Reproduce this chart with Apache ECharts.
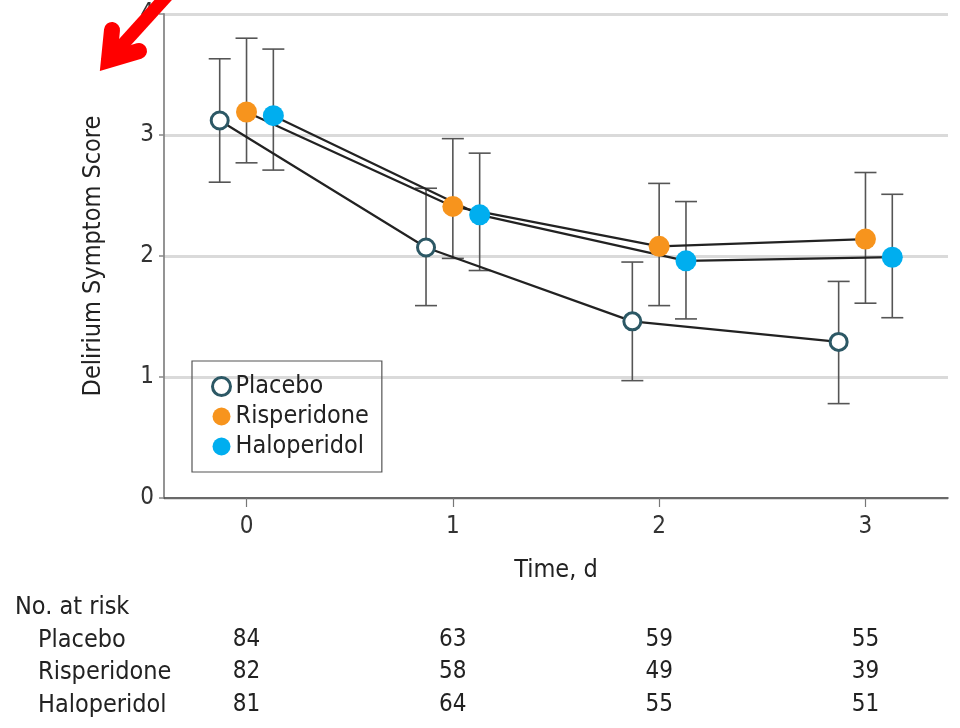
<!DOCTYPE html>
<html><head><meta charset="utf-8">
<script src="https://cdn.jsdelivr.net/npm/echarts@6/dist/echarts.min.js"></script>
<style>html,body{margin:0;padding:0;background:#fff}#c{width:960px;height:728px}</style>
</head><body><div id="c"></div>
<script>
const FONT = '"DejaVu Sans Condensed","DejaVu Sans",sans-serif';
const days = [0, 1, 2, 3];
const seriesNames = ['Placebo', 'Risperidone', 'Haloperidol'];
const dodge = [-0.13, 0, 0.13];
const placeboMean = [3.12, 2.07, 1.46, 1.29];
const placeboLow  = [2.61, 1.59, 0.97, 0.78];
const placeboHigh = [3.63, 2.56, 1.95, 1.79];
const risperidoneMean = [3.19, 2.41, 2.08, 2.14];
const risperidoneLow  = [2.77, 1.98, 1.59, 1.61];
const risperidoneHigh = [3.80, 2.97, 2.60, 2.69];
const haloperidolMean = [3.16, 2.34, 1.96, 1.99];
const haloperidolLow  = [2.71, 1.88, 1.48, 1.49];
const haloperidolHigh = [3.71, 2.85, 2.45, 2.51];
const atRiskPlacebo = [84, 63, 59, 55];
const atRiskRisperidone = [82, 58, 49, 39];
const atRiskHaloperidol = [81, 64, 55, 51];

const means = [placeboMean, risperidoneMean, haloperidolMean];
const lows = [placeboLow, risperidoneLow, haloperidolLow];
const highs = [placeboHigh, risperidoneHigh, haloperidolHigh];
const atRisk = [atRiskPlacebo, atRiskRisperidone, atRiskHaloperidol];
const styles = [
  {color: '#ffffff', borderColor: '#2c5865', borderWidth: 3},
  {color: '#f7941d', borderColor: '#f7941d', borderWidth: 0},
  {color: '#00aeef', borderColor: '#00aeef', borderWidth: 0}
];

const chart = echarts.init(document.getElementById('c'));
const series = [];
seriesNames.forEach((name, s) => {
  series.push({
    type: 'custom', name: name + ' CI', silent: true, z: 1,
    renderItem: function (params, api) {
      const x = api.value(0);
      const lo = api.coord([x, api.value(1)]);
      const hi = api.coord([x, api.value(2)]);
      const w = 11;
      const st = {stroke: '#555', lineWidth: 1.6};
      return {type: 'group', children: [
        {type: 'line', shape: {x1: lo[0], y1: lo[1], x2: hi[0], y2: hi[1]}, style: st},
        {type: 'line', shape: {x1: lo[0] - w, y1: lo[1], x2: lo[0] + w, y2: lo[1]}, style: st},
        {type: 'line', shape: {x1: hi[0] - w, y1: hi[1], x2: hi[0] + w, y2: hi[1]}, style: st}
      ]};
    },
    data: days.map((d, i) => [d + dodge[s], lows[s][i], highs[s][i]])
  });
});
seriesNames.forEach((name, s) => {
  series.push({
    type: 'line', name: name, z: 3,
    symbol: 'circle', symbolSize: s === 0 ? 17 : 21,
    lineStyle: {color: '#222', width: 2.2},
    itemStyle: styles[s],
    emphasis: {disabled: true},
    data: days.map((d, i) => [d + dodge[s], means[s][i]])
  });
});

chart.setOption({
  animation: false,
  textStyle: {fontFamily: FONT},
  grid: {left: 164, right: 12, top: 14, bottom: 230},
  legend: {
    orient: 'vertical', left: 192, top: 361,
    padding: [13, 13, 13, 19], itemGap: 5, itemWidth: 18, itemHeight: 18, itemTextGap: 6,
    borderColor: '#555', borderWidth: 1.2,
    icon: 'circle',
    textStyle: {fontFamily: FONT, fontSize: 25, color: '#222'},
    data: seriesNames.map((n, s) => ({name: n, itemStyle: styles[s]}))
  },
  xAxis: {
    type: 'value', min: -0.4, max: 3.4,
    name: 'Time, d', nameLocation: 'middle', nameGap: 60,
    nameTextStyle: {fontSize: 25, color: '#222', fontFamily: FONT},
    splitLine: {show: false},
    axisLine: {onZero: false, lineStyle: {color: '#444', width: 1.5}},
    axisTick: {show: true, customValues: days, length: 9, lineStyle: {color: '#777', width: 1.2}},
    axisLabel: {customValues: days, fontSize: 24, color: '#333', margin: 17, fontFamily: FONT}
  },
  yAxis: {
    type: 'value', min: 0, max: 4, interval: 1,
    name: 'Delirium Symptom Score', nameLocation: 'middle', nameGap: 58,
    nameTextStyle: {fontSize: 25, color: '#222', fontFamily: FONT},
    axisLine: {show: true, onZero: false, lineStyle: {color: '#888', width: 1.8}},
    axisTick: {show: true, length: 5, lineStyle: {color: '#888', width: 1.5}},
    axisLabel: {fontSize: 24, color: '#333', margin: 10, fontFamily: FONT},
    splitLine: {show: true, lineStyle: {color: '#dadada', width: 3}}
  },
  series: series
});

// at-risk table + annotation arrow
const g = [];
g.push({type: 'text', x: 15, y: 607, style: {text: 'No. at risk', font: '25px ' + FONT, fill: '#222', verticalAlign: 'middle'}});
const rowY = [640, 672, 705];
seriesNames.forEach((n, s) => {
  g.push({type: 'text', x: 38, y: rowY[s], style: {text: n, font: '25px ' + FONT, fill: '#222', verticalAlign: 'middle'}});
  days.forEach((d, i) => {
    const px = chart.convertToPixel({xAxisIndex: 0}, d);
    g.push({type: 'text', x: px, y: rowY[s], style: {text: String(atRisk[s][i]), font: '24px ' + FONT, fill: '#222', align: 'center', verticalAlign: 'middle'}});
  });
});
g.push({type: 'polyline', z: 100, shape: {points: [[106, 63], [174, -12]]}, style: {stroke: '#ff0000', lineWidth: 13, lineCap: 'butt', fill: null}});
g.push({type: 'polyline', z: 100, shape: {points: [[112, 30], [109, 60], [139, 51]]}, style: {stroke: '#ff0000', lineWidth: 16, lineCap: 'round', lineJoin: 'miter', miterLimit: 10, fill: null}});
chart.setOption({graphic: g});
</script>
</body></html>
